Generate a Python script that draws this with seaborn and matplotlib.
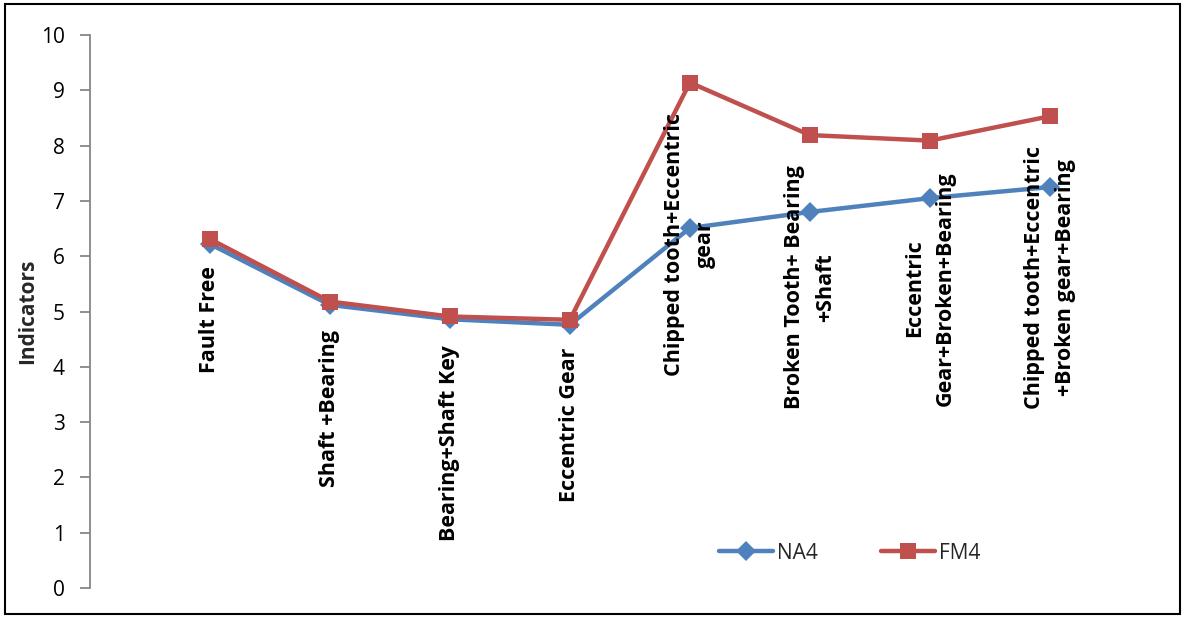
import matplotlib
matplotlib.use("Agg")
import matplotlib.pyplot as plt
import seaborn as sns
import pandas as pd
import numpy as np
from matplotlib.patches import Rectangle

categories = ["Fault Free", "Shaft +Bearing", "Bearing+Shaft Key", "Eccentric Gear",
              "Chipped tooth+Eccentric\ngear", "Broken Tooth+ Bearing\n+Shaft",
              "Eccentric\nGear+Broken+Bearing", "Chipped tooth+Eccentric\n+Broken gear+Bearing"]
na4 = [6.22, 5.12, 4.86, 4.76, 6.51, 6.80, 7.05, 7.25]
fm4 = [6.31, 5.18, 4.91, 4.85, 9.14, 8.19, 8.09, 8.53]
label_y = [4.85, 3.25, 2.62, 2.95, 6.22, 5.44, 5.42, 5.62]
yticks = list(range(0, 11))

sns.set_theme(style="white")
plt.rcParams['font.family'] = ['Open Sans', 'DejaVu Sans']

pos = np.arange(len(categories))
df = pd.DataFrame({
    "pos": np.concatenate([pos, pos]),
    "value": na4 + fm4,
    "series": ["NA4"] * len(na4) + ["FM4"] * len(fm4),
})

fig = plt.figure(figsize=(11.84, 6.19), dpi=100)
ax = fig.add_axes([0.076, 0.05, 0.912, 0.8935])

palette = {"NA4": "#4F81BD", "FM4": "#C0504D"}
markers = {"NA4": "D", "FM4": "s"}
sns.lineplot(data=df, x="pos", y="value", hue="series", style="series",
             palette=palette, markers=markers, dashes=False, linewidth=3.2,
             markersize=12, markeredgewidth=0, ax=ax)

for line in ax.lines:
    if line.get_marker() == "D":
        line.set_markersize(10.5)

ax.set_xlim(-1, 8)
ax.set_ylim(0, 10)
ax.set_yticks(yticks)
ax.set_yticklabels([str(t) for t in yticks], fontsize=15, color="black")
ax.set_xticks([])
ax.set_xlabel("")
ax.set_ylabel("Indicators", fontsize=15, fontweight="bold")
ax.yaxis.set_label_coords(-0.048, 0.5)

for s in ["top", "right", "bottom"]:
    ax.spines[s].set_visible(False)
ax.spines["left"].set_color("#868686")
ax.spines["left"].set_linewidth(1.3)
ax.tick_params(axis="y", which="major", direction="out", length=7, width=1.3,
               color="#868686", left=True, pad=11)

for p, cat, ly in zip(pos, categories, label_y):
    ax.text(p, ly, cat, rotation=90, ha="center", va="center",
            multialignment="center", fontsize=15.5, fontweight="bold",
            linespacing=1.65, color="black")

handles, labels = ax.get_legend_handles_labels()
ax.legend(handles, labels, loc="center left", bbox_to_anchor=(0.565, 0.063),
          ncol=2, frameon=False, fontsize=15, handlelength=2.6,
          columnspacing=3.0, handletextpad=0.2)

fig.patches.append(Rectangle((0.004, 0.008), 0.993, 0.985, transform=fig.transFigure,
                             fill=False, edgecolor="black", linewidth=1.5))

fig.savefig("out.png", dpi=100)
